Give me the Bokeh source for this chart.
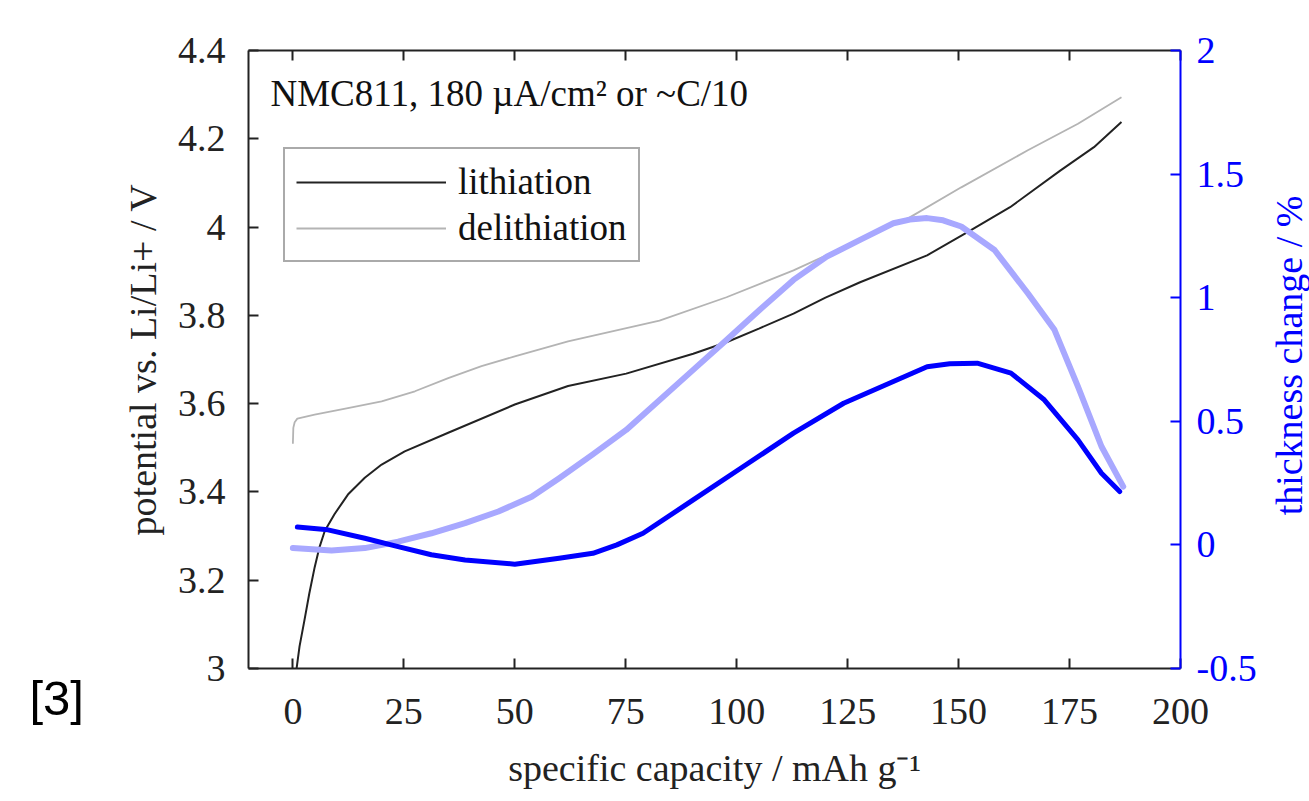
import math
from bokeh.plotting import figure
from bokeh.layouts import row
from bokeh.models import (LinearAxis, Range1d, FixedTicker, CustomJSTickFormatter,
                          Label, Legend, LegendItem, Title)
from bokeh.embed import file_html
from bokeh.resources import INLINE

# ---------------- data ----------------
lith_x = [0.7, 1.5, 2.6, 3.7, 4.9, 6.0, 7.2, 9.4, 12.4, 16.2, 20.0, 25.2, 35.0, 50.0,
          62.0, 75.1, 90.2, 97.7, 105.0, 112.8, 120.0, 127.8, 142.9, 152.6, 161.6,
          172.9, 180.5, 186.7]
lith_v = [2.99, 3.05, 3.109, 3.17, 3.229, 3.275, 3.312, 3.35, 3.394, 3.432, 3.462, 3.492,
          3.534, 3.598, 3.64, 3.668, 3.713, 3.739, 3.77, 3.804, 3.84, 3.875, 3.936, 3.992,
          4.045, 4.128, 4.181, 4.238]

delith_x = [0.0, 0.1, 0.4, 1.0, 4.9, 12.4, 20.0, 27.5, 35.0, 42.5, 50.0, 62.0, 82.6,
            97.7, 112.8, 124.1, 139.0, 150.6, 165.6, 176.9, 186.7]
delith_v = [3.509, 3.545, 3.558, 3.566, 3.575, 3.59, 3.605, 3.628, 3.658, 3.685, 3.707,
            3.741, 3.788, 3.841, 3.902, 3.954, 4.022, 4.09, 4.174, 4.234, 4.294]

thick_lith_x = [1.0, 7.9, 16.2, 23.7, 31.2, 38.8, 50.0, 60.0, 67.6, 73.0, 78.9, 90.2,
                101.5, 112.8, 124.1, 135.3, 142.9, 148.0, 154.2, 161.8, 169.3, 176.9,
                182.2, 186.3]
thick_lith_t = [0.072, 0.061, 0.027, -0.007, -0.04, -0.061, -0.078, -0.054, -0.034, 0.0,
                0.047, 0.182, 0.317, 0.452, 0.573, 0.661, 0.721, 0.733, 0.735, 0.695,
                0.587, 0.425, 0.29, 0.216]

thick_delith_x = [0.0, 8.7, 16.2, 23.7, 31.2, 38.8, 46.3, 53.8, 60.0, 67.5, 75.1, 90.2,
                  97.7, 105.2, 112.8, 120.3, 127.8, 135.3, 139.0, 142.9, 146.5, 150.6,
                  158.1, 165.6, 171.6, 176.9, 182.2, 187.1]
thick_delith_t = [-0.013, -0.023, -0.013, 0.013, 0.047, 0.088, 0.135, 0.195, 0.27, 0.365,
                  0.465, 0.708, 0.829, 0.951, 1.072, 1.166, 1.234, 1.301, 1.316, 1.322,
                  1.313, 1.288, 1.193, 1.018, 0.87, 0.64, 0.398, 0.236]

x_ticks = [0, 25, 50, 75, 100, 125, 150, 175, 200]
left_ticks = [3.0, 3.2, 3.4, 3.6, 3.8, 4.0, 4.2, 4.4]
right_ticks = [-0.5, 0.0, 0.5, 1.0, 1.5, 2.0]

title_text = "NMC811, 180 \u00b5A/cm\u00b2 or ~C/10"
x_label = "specific capacity / mAh g\u207b\u00b9"
left_label = "potential vs. Li/Li+ / V"
right_label = "thickness change / %"
legend_labels = ["lithiation", "delithiation"]
ref_text = "[3]"

# ---------------- layout sizes ----------------
FONT = "Liberation Serif"
FS = "38px"
BLUE = "#0000ff"
H = 793
W0 = 100            # left strip holding the "[3]" note
W1 = 1160           # main plot
W2 = 1309 - W0 - W1  # right strip holding the right-axis title
FRAME_BOTTOM = 668

# ---------------- main figure ----------------
p = figure(width=W1, height=H, x_range=Range1d(-10, 200), y_range=Range1d(3, 4.4),
           output_backend="svg", toolbar_location=None,
           min_border_left=248 - W0, min_border_right=W0 + W1 - 1180, min_border_top=50,
           min_border_bottom=H - FRAME_BOTTOM)
p.extra_y_ranges = {"right": Range1d(-0.5, 2)}
p.xgrid.visible = False
p.ygrid.visible = False
p.outline_line_color = None
p.background_fill_color = "white"
p.border_fill_color = "white"

fmt = CustomJSTickFormatter(code="return (Math.round(tick*10)/10).toString();")


def style(ax, color="#222222"):
    ax.axis_line_color = color
    ax.axis_line_width = 2
    ax.major_tick_line_color = color
    ax.major_tick_line_width = 2
    ax.major_tick_in = 10
    ax.major_tick_out = 0
    ax.minor_tick_line_color = None
    ax.major_label_text_font = FONT
    ax.major_label_text_font_size = FS
    ax.major_label_text_color = color
    ax.axis_label_text_font = FONT
    ax.axis_label_text_font_size = FS
    ax.axis_label_text_font_style = "normal"
    ax.axis_label_text_color = color


xb = p.xaxis[0]
style(xb)
xb.ticker = FixedTicker(ticks=x_ticks)
xb.formatter = fmt
xb.axis_label = x_label
xb.major_label_standoff = 30
xb.axis_label_standoff = 20

yl = p.yaxis[0]
style(yl)
yl.ticker = FixedTicker(ticks=left_ticks)
yl.formatter = fmt
yl.axis_label = left_label
yl.major_label_standoff = 23
yl.axis_label_standoff = 11

yr = LinearAxis(y_range_name="right", ticker=FixedTicker(ticks=right_ticks), formatter=fmt)
style(yr, BLUE)
yr.major_label_standoff = 16
p.add_layout(yr, "right")

xt = LinearAxis(ticker=FixedTicker(ticks=x_ticks),
                formatter=CustomJSTickFormatter(code="return '';"))
style(xt)
xt.major_label_text_font_size = "8px"
xt.major_label_standoff = 0
p.add_layout(xt, "above")

r_lith = p.line(lith_x, lith_v, line_color="#222222", line_width=2)
r_delith = p.line(delith_x, delith_v, line_color="#b4b4b4", line_width=1.8)
p.line(thick_delith_x, thick_delith_t, y_range_name="right", line_color="#a8a8ff",
       line_width=6, line_join="round", line_cap="round")
p.line(thick_lith_x, thick_lith_t, y_range_name="right", line_color=BLUE,
       line_width=5, line_join="round", line_cap="round")

legend = Legend(items=[LegendItem(label=legend_labels[0], renderers=[r_lith]),
                       LegendItem(label=legend_labels[1], renderers=[r_delith])],
                location=(35, 406))
legend.label_text_font = FONT
legend.label_text_font_size = "37px"
legend.label_text_color = "#111111"
legend.glyph_width = 150
legend.glyph_height = 38
legend.label_height = 38
legend.label_standoff = 12
legend.padding = 11
legend.spacing = 3
legend.margin = 0
legend.border_line_color = "#555555"
legend.border_line_width = 2
legend.background_fill_alpha = 1
p.add_layout(legend)

p.add_layout(Label(x=22, y=575, x_units="screen", y_units="screen", text=title_text,
                   text_font=FONT, text_font_size="37px", text_color="#111111",
                   text_baseline="middle"))


# ---------------- side strips (text only) ----------------
def strip(width):
    f = figure(width=width, height=H, x_range=Range1d(0, 1), y_range=Range1d(0, 1),
               output_backend="svg", toolbar_location=None,
               x_axis_location=None, y_axis_location=None,
               min_border_left=0, min_border_right=0, min_border_top=0,
               min_border_bottom=0)
    f.xgrid.visible = False
    f.ygrid.visible = False
    f.outline_line_color = None
    f.background_fill_color = "white"
    f.border_fill_color = "white"
    return f


# left strip: the "[3]" note sits just below the (row-aligned) frame bottom
p0 = strip(W0)
p0.add_layout(Title(text=ref_text, align="left", offset=29, standoff=0,
                    text_font="Liberation Sans", text_font_size="49px",
                    text_font_style="normal", text_color="#000000"), "below")

# right strip: right-axis title reading bottom-to-top
p2 = strip(W2)
p2.add_layout(Label(x=1288 - W0 - W1, y=FRAME_BOTTOM - 355, x_units="screen",
                    y_units="screen", text=right_label, angle=math.pi / 2,
                    text_font=FONT, text_font_size="38px", text_color=BLUE,
                    text_align="center", text_baseline="middle"))

layout = row(p0, p, p2)
layout.spacing = 0

open("out.html", "w").write(file_html(layout, INLINE))
